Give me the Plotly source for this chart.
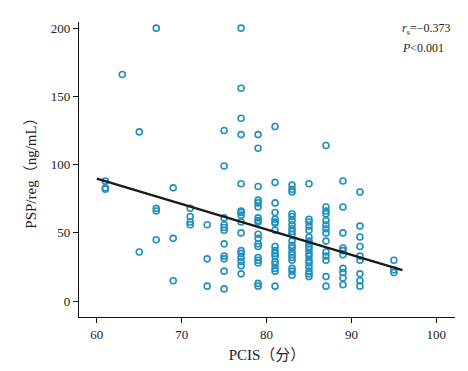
import plotly.graph_objects as go

# PCIS scores (x) and PSP/reg values (y), grouped by PCIS column
pcis_61 = [88, 83, 82]
pcis_63 = [166]
pcis_65 = [124, 36]
pcis_67 = [200, 68, 66, 45]
pcis_69 = [83, 46, 15]
pcis_71 = [68, 62, 58, 56]
pcis_73 = [56, 31, 11]
pcis_75 = [125, 99, 61, 56, 54, 52, 42, 33, 31, 22, 9]
pcis_77 = [200, 156, 134, 122, 86, 66, 65, 63, 58, 50, 37, 35, 32, 29, 26, 20]
pcis_79 = [122, 112, 84, 74, 72, 69, 61, 59, 58, 49, 46, 42, 40, 32, 30, 28, 13, 11]
pcis_81 = [128, 87, 72, 65, 60, 58, 57, 52, 40, 37, 35, 33, 29, 27, 24, 22, 11]
pcis_83 = [85, 82, 80, 64, 62, 59, 56, 53, 51, 49, 44, 41, 39, 36, 34, 32, 30, 24, 22, 19]
pcis_85 = [86, 60, 58, 55, 52, 47, 44, 42, 40, 38, 35, 33, 30, 28, 25, 22, 20, 18]
pcis_87 = [114, 69, 66, 64, 59, 56, 53, 50, 44, 36, 33, 30, 18, 11]
pcis_89 = [88, 69, 50, 39, 37, 34, 24, 21, 17, 12]
pcis_91 = [80, 55, 47, 40, 33, 30, 20, 15, 11]
pcis_95 = [30, 23, 21]

groups = {61: pcis_61, 63: pcis_63, 65: pcis_65, 67: pcis_67, 69: pcis_69,
          71: pcis_71, 73: pcis_73, 75: pcis_75, 77: pcis_77, 79: pcis_79,
          81: pcis_81, 83: pcis_83, 85: pcis_85, 87: pcis_87, 89: pcis_89,
          91: pcis_91, 95: pcis_95}

x_vals = []
y_vals = []
for k, vs in groups.items():
    x_vals += [k] * len(vs)
    y_vals += vs

# Fitted trend line
trend_x = [60, 96]
trend_y = [89.7, 22.8]

x_ticks = [60, 70, 80, 90, 100]
y_ticks = [0, 50, 100, 150, 200]

serif = "Liberation Serif, Times New Roman, Noto Sans CJK SC, serif"

fig = go.Figure()
fig.add_trace(go.Scatter(
    x=x_vals, y=y_vals, mode="markers",
    marker=dict(symbol="circle-open", size=6, color="#1f8fc0",
                line=dict(width=1.6, color="#1f8fc0")),
    showlegend=False, hoverinfo="skip"))
fig.add_trace(go.Scatter(
    x=trend_x, y=trend_y, mode="lines",
    line=dict(color="#1a1a1a", width=2.4),
    showlegend=False, hoverinfo="skip"))

fig.update_layout(
    width=468, height=371,
    margin=dict(l=71, r=21, t=14, b=62),
    plot_bgcolor="white", paper_bgcolor="white",
    font=dict(family=serif, size=13, color="#222"),
    xaxis=dict(range=[57.9, 102.2], tickvals=x_ticks, showgrid=False, zeroline=False,
               automargin=False,
               showline=True, linecolor="#111", linewidth=1.3,
               ticks="outside", ticklen=5, tickcolor="#111", tickwidth=1.2,
               tickfont=dict(family=serif, size=13, color="#222"),
               title=dict(text="PCIS（分）", font=dict(family=serif, size=15, color="#222"),
                          standoff=8)),
    yaxis=dict(range=[-11.6, 204.5], tickvals=y_ticks, showgrid=False, zeroline=False,
               automargin=False,
               showline=True, linecolor="#111", linewidth=1.3,
               ticks="outside", ticklen=5, tickcolor="#111", tickwidth=1.2,
               tickfont=dict(family=serif, size=13, color="#222"),
               title=dict(text="PSP/reg（ng/mL）", font=dict(family=serif, size=15, color="#222"),
                          standoff=10)),
    annotations=[
        dict(x=0.855, y=0.976, xref="paper", yref="paper", xanchor="left", yanchor="middle",
             text="<i>r</i><sub>s</sub>=−0.373", showarrow=False,
             font=dict(family=serif, size=12, color="#222")),
        dict(x=0.855, y=0.912, xref="paper", yref="paper", xanchor="left", yanchor="middle",
             text="<i>P</i>&lt;0.001", showarrow=False,
             font=dict(family=serif, size=12, color="#222")),
    ],
)

fig.write_html("out.html")
